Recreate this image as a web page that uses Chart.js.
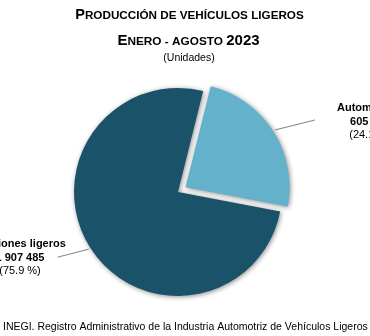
<!DOCTYPE html>
<html>
<head>
<meta charset="utf-8">
<script src="https://cdn.jsdelivr.net/npm/chart.js@4.4.0/dist/chart.umd.min.js"></script>
<style>
  html, body { margin: 0; padding: 0; background: #fff; }
  #wrap { width: 370px; height: 336px; position: relative; }
</style>
</head>
<body>
<div id="wrap"><canvas id="pie" width="370" height="336"></canvas></div>
<script>
const categories = ['Automóviles', 'Camiones ligeros'];
const unidades = [605671, 1907485];
const porcentajes = ['24.1', '75.9'];
const colores = ['#63b1cb', '#1a5269'];
const separacion = [36, 0];

const FONT = '"Liberation Sans", Arial, sans-serif';

function miles(n) {
  return String(n).replace(/\B(?=(\d{3})+(?!\d))/g, ' ');
}

// title written in small caps: first letters bigger, the rest smaller
function smallCaps(ctx, parts, y, cx) {
  let w = 0;
  parts.forEach(p => {
    ctx.font = 'bold ' + p[1] + 'px ' + FONT;
    w += ctx.measureText(p[0]).width;
  });
  let x = cx - w / 2;
  ctx.textAlign = 'left';
  ctx.textBaseline = 'alphabetic';
  parts.forEach(p => {
    ctx.font = 'bold ' + p[1] + 'px ' + FONT;
    ctx.fillText(p[0], x, y);
    x += ctx.measureText(p[0]).width;
  });
}

const titulos = {
  id: 'titulos',
  afterDraw(chart) {
    const ctx = chart.ctx;
    ctx.save();
    ctx.fillStyle = '#000';
    smallCaps(ctx, [['P', 14.5], ['RODUCCIÓN DE VEHÍCULOS LIGEROS', 11.7]], 18.5, 189.5);
    smallCaps(ctx, [['E', 15], ['NERO - AGOSTO ', 11.8], ['2023', 15]], 45, 188.5);
    ctx.font = '10.5px ' + FONT;
    ctx.textAlign = 'center';
    ctx.fillText('(Unidades)', 189, 61);
    ctx.textAlign = 'left';
    ctx.fillText('INEGI. Registro Administrativo de la Industria Automotriz de Vehículos Ligeros', 3, 330);
    ctx.restore();
  }
};

// soft shadow under the slices
const sombra = {
  id: 'sombra',
  beforeDatasetDraw(chart) {
    const ctx = chart.ctx;
    ctx.save();
    ctx.shadowColor = 'rgba(0,0,0,0.45)';
    ctx.shadowBlur = 5;
    ctx.shadowOffsetX = 1;
    ctx.shadowOffsetY = 1;
  },
  afterDatasetDraw(chart) {
    chart.ctx.restore();
  }
};

// leader lines and labels outside each slice
const etiquetas = {
  id: 'etiquetas',
  afterDatasetDraw(chart) {
    const ctx = chart.ctx;
    const meta = chart.getDatasetMeta(0);
    const pos = [
      {lx: 40, ly: -10, tx: 370, ty: 108},
      {lx: -31, ly: 8, tx: 20, ty: 244}
    ];
    ctx.save();
    meta.data.forEach((arc, i) => {
      const p = arc.getProps(['x', 'y', 'startAngle', 'endAngle', 'outerRadius']);
      const mid = (p.startAngle + p.endAngle) / 2;
      const shift = (arc.options.offset || 0) / 4;
      const ex = p.x + Math.cos(mid) * (p.outerRadius + shift + 2);
      const ey = p.y + Math.sin(mid) * (p.outerRadius + shift + 2);
      ctx.strokeStyle = '#7f7f7f';
      ctx.lineWidth = 1;
      ctx.beginPath();
      ctx.moveTo(ex, ey);
      ctx.lineTo(ex + pos[i].lx, ey + pos[i].ly);
      ctx.stroke();
      ctx.fillStyle = '#000';
      ctx.textAlign = 'center';
      ctx.textBaseline = 'middle';
      ctx.font = 'bold 11px ' + FONT;
      ctx.fillText(categories[i], pos[i].tx, pos[i].ty);
      ctx.fillText(miles(unidades[i]), pos[i].tx, pos[i].ty + 13.5);
      ctx.font = '11px ' + FONT;
      ctx.fillText('(' + porcentajes[i] + ' %)', pos[i].tx, pos[i].ty + 27);
    });
    ctx.restore();
  }
};

new Chart(document.getElementById('pie'), {
  type: 'pie',
  data: {
    labels: categories,
    datasets: [{
      data: unidades,
      backgroundColor: colores,
      borderWidth: 0,
      offset: separacion
    }]
  },
  options: {
    responsive: false,
    animation: false,
    rotation: 14,
    layout: { padding: { left: 56, right: 70, top: 70, bottom: 22 } },
    plugins: {
      legend: { display: false },
      tooltip: { enabled: false }
    }
  },
  plugins: [sombra, etiquetas, titulos]
});
</script>
</body>
</html>
